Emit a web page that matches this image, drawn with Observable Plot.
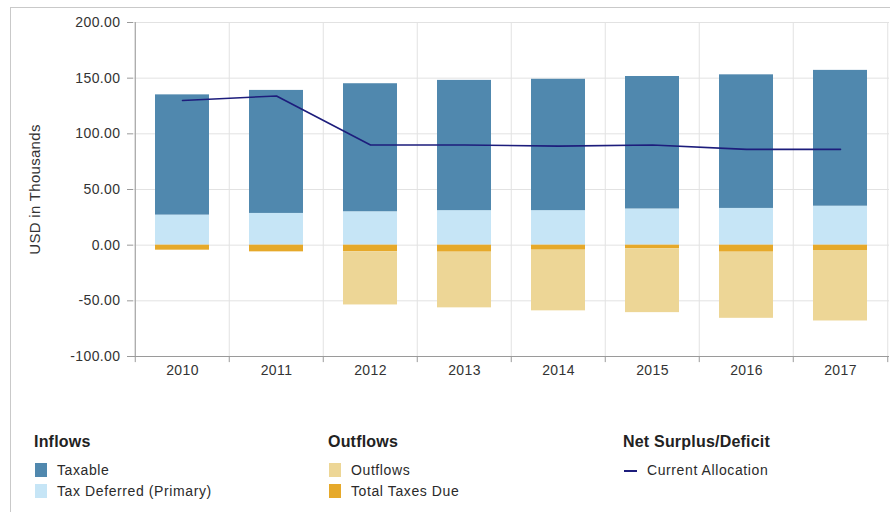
<!DOCTYPE html>
<html>
<head>
<meta charset="utf-8">
<script src="https://cdn.jsdelivr.net/npm/d3@7"></script>
<script src="https://cdn.jsdelivr.net/npm/@observablehq/plot@0.6"></script>
<style>
  html, body { margin: 0; padding: 0; background: #fff; }
  #wrap { position: relative; width: 890px; height: 512px; overflow: hidden; font-family: "Liberation Sans", Arial, sans-serif; color: #222; }
  #frame { position: absolute; left: 10px; top: 7px; width: 900px; height: 600px; border-top: 1px solid #c9c9c9; border-left: 1px solid #c9c9c9; }
  #chart { position: absolute; left: 0; top: 0; }
  .lg-head { position: absolute; font-weight: bold; font-size: 16px; letter-spacing: 0.2px; color: #222; }
  .lg-item { position: absolute; font-size: 14px; letter-spacing: 0.6px; color: #2a2a2a; }
  .sw { position: absolute; width: 12px; height: 14px; }
  .ln { position: absolute; width: 13px; height: 2px; }
</style>
</head>
<body>
<div id="wrap">
  <div id="frame"></div>
  <div id="chart"></div>
  <div id="legend"></div>
</div>
<script>
const years = ["2010", "2011", "2012", "2013", "2014", "2015", "2016", "2017"];
const taxable = [108, 110.5, 115, 117, 118, 119, 120, 122];
const taxDeferred = [27, 28.5, 30, 31, 31, 32.5, 33, 35];
const totalTaxesDue = [4.5, 6, 6, 6.3, 4.5, 3.3, 6.3, 4.8];
const outflows = [0, 0, 47.7, 50, 54.5, 57.3, 59.4, 63.3];
const currentAllocation = [130, 134, 90, 90, 89, 90, 86, 86];
const yTicks = [-100, -50, 0, 50, 100, 150, 200];

const seriesNames = ["Taxable", "Tax Deferred (Primary)", "Outflows", "Total Taxes Due"];
const seriesColors = ["#5088ae", "#c6e5f6", "#edd696", "#e6a92a"];
const lineColor = "#1d1d7c";

// stacking order: positive (deferred bottom, taxable top), negative (taxes near zero, then outflows)
const rows = [];
years.forEach((yr, i) => {
  rows.push({year: yr, series: "Tax Deferred (Primary)", value: taxDeferred[i]});
  rows.push({year: yr, series: "Taxable", value: taxable[i]});
  rows.push({year: yr, series: "Total Taxes Due", value: -totalTaxesDue[i]});
  rows.push({year: yr, series: "Outflows", value: -outflows[i]});
});
const lineData = years.map((yr, i) => ({year: yr, value: currentAllocation[i]}));

const W = 890, H = 390, ML = 133, MR = 1, MT = 22, MB = 34;
const bw = (W - ML - MR) / years.length;
const last = years[years.length - 1];

const chart = Plot.plot({
  width: W, height: H,
  marginLeft: ML, marginRight: MR, marginTop: MT, marginBottom: MB,
  style: {fontFamily: "Liberation Sans, Arial, sans-serif", fontSize: "14px", color: "#333", background: "transparent", overflow: "visible"},
  x: {domain: years, padding: 0, tickSize: 0, tickPadding: 9, label: null},
  y: {domain: [-100, 200], ticks: yTicks, tickFormat: d => d.toFixed(2), tickSize: 6, tickPadding: 7,
      label: "USD in Thousands", labelAnchor: "center", labelOffset: 104, labelArrow: false},
  color: {domain: seriesNames, range: seriesColors},
  marks: [
    Plot.ruleY(yTicks, {stroke: "#e2e2e2"}),
    Plot.ruleX(years, {dx: -bw / 2, stroke: "#e2e2e2"}),
    Plot.ruleX([last], {dx: bw / 2, stroke: "#e2e2e2"}),
    Plot.barY(rows, Plot.stackY({x: "year", y: "value", fill: "series", insetLeft: 20, insetRight: 20})),
    Plot.ruleY([-100], {stroke: "#9a9a9a"}),
    Plot.ruleX([years[0]], {dx: -bw / 2, y1: -100, y2: 200, stroke: "#9a9a9a"}),
    Plot.ruleX(years, {dx: -bw / 2, y1: -100, y2: -105.5, stroke: "#9a9a9a"}),
    Plot.ruleX([last], {dx: bw / 2, y1: -100, y2: -105.5, stroke: "#9a9a9a"}),
    Plot.line(lineData, {x: "year", y: "value", stroke: lineColor, strokeWidth: 1.6})
  ]
});
document.getElementById("chart").appendChild(chart);
// soften y tick marks
chart.querySelectorAll('g[aria-label="y-axis tick"] path, g[aria-label="y-axis"] .tick line').forEach(el => el.setAttribute("stroke", "#9a9a9a"));
chart.querySelectorAll('text').forEach(t => {
  t.style.letterSpacing = "0.4px";
  if (t.textContent.trim() === "USD in Thousands") { t.style.fontSize = "15px"; t.style.letterSpacing = "0.3px"; }
});

// Legend
const legend = document.getElementById("legend");
const groups = [
  {title: "Inflows", x: 34, items: [{name: "Taxable", color: seriesColors[0]}, {name: "Tax Deferred (Primary)", color: seriesColors[1]}]},
  {title: "Outflows", x: 328, items: [{name: "Outflows", color: seriesColors[2]}, {name: "Total Taxes Due", color: seriesColors[3]}]},
  {title: "Net Surplus/Deficit", x: 623, items: [{name: "Current Allocation", color: lineColor, line: true}]}
];
groups.forEach(g => {
  const h = document.createElement("div");
  h.className = "lg-head"; h.textContent = g.title;
  h.style.left = g.x + "px"; h.style.top = "433px";
  legend.appendChild(h);
  g.items.forEach((it, j) => {
    const top = 463 + j * 21;
    const s = document.createElement("div");
    if (it.line) {
      s.className = "ln"; s.style.left = (g.x + 1) + "px"; s.style.top = (top + 7) + "px";
    } else {
      s.className = "sw"; s.style.left = (g.x + 1) + "px"; s.style.top = top + "px";
    }
    s.style.background = it.color;
    legend.appendChild(s);
    const t = document.createElement("div");
    t.className = "lg-item"; t.textContent = it.name;
    t.style.left = (g.x + (it.line ? 24 : 23)) + "px"; t.style.top = (top - 1) + "px";
    legend.appendChild(t);
  });
});
</script>
</body>
</html>
